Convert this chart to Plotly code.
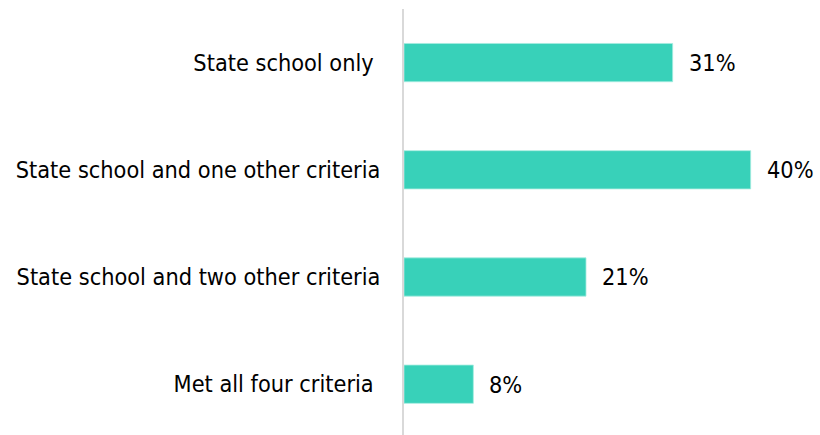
import plotly.graph_objects as go

# Share of students by number of widening-participation criteria met
categories = [
    "State school only\u00a0",
    "State school and one other criteria",
    "State school and two other criteria",
    "Met all four criteria\u00a0",
]
values = [31, 40, 21, 8]
value_labels = ["31%", "40%", "21%", "8%"]

BAR_COLOR = "#38d1b9"
FONT = "DejaVu Sans Condensed, Tahoma, DejaVu Sans, sans-serif"
FONT_SIZE = 23.3

fig = go.Figure(
    go.Bar(
        x=values,
        y=categories,
        orientation="h",
        width=0.357,
        marker=dict(color=BAR_COLOR, line=dict(color="#a6ece0", width=0.8)),
        hoverinfo="skip",
    )
)

# Value labels placed just past the end of each bar
for cat, val, lab in zip(categories, values, value_labels):
    fig.add_annotation(
        x=val, y=cat, text=lab, showarrow=False,
        xanchor="left", yanchor="middle", xshift=14,
        font=dict(family=FONT, size=FONT_SIZE, color="#000000"),
    )

fig.update_layout(
    width=820, height=435,
    margin=dict(l=404, r=0, t=9, b=0),
    paper_bgcolor="white", plot_bgcolor="white",
    showlegend=False,
    font=dict(family=FONT, size=FONT_SIZE, color="#000000"),
    xaxis=dict(
        range=[0, 48], visible=False, showgrid=False, zeroline=False,
    ),
    yaxis=dict(
        type="category",
        categoryorder="array", categoryarray=categories,
        range=[3.474, -0.5],
        showgrid=False, zeroline=False,
        showline=True, linecolor="#d9d9d9", linewidth=2,
        ticks="", ticklabelstandoff=17,
        tickfont=dict(family=FONT, size=FONT_SIZE, color="#000000"),
    ),
)

fig.write_html("out.html")
